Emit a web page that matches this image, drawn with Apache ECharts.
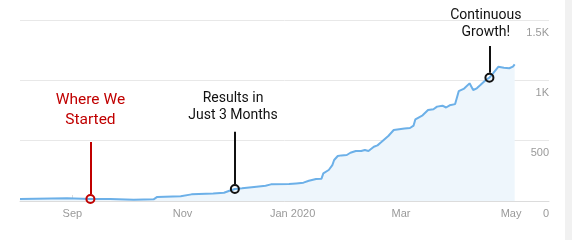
<!DOCTYPE html>
<html>
<head>
<meta charset="utf-8">
<script src="https://cdn.jsdelivr.net/npm/echarts@6/dist/echarts.min.js"></script>
<style>html,body{margin:0;padding:0;background:#fff;}#c{width:572px;height:240px;}</style>
</head>
<body>
<div id="c"></div>
<script>
const dates = ['2019-08-03','2019-08-29','2019-09-11','2019-09-22','2019-09-23','2019-10-05','2019-10-16','2019-10-18','2019-10-31','2019-11-06','2019-11-18','2019-11-24','2019-11-27','2019-11-30','2019-12-04','2019-12-12','2019-12-17','2019-12-20','2019-12-30','2020-01-03','2020-01-07','2020-01-10','2020-01-14','2020-01-17','2020-01-18','2020-01-21','2020-01-23','2020-01-24','2020-01-26','2020-01-28','2020-01-29','2020-01-31','2020-02-02','2020-02-05','2020-02-08','2020-02-10','2020-02-12','2020-02-15','2020-02-17','2020-02-19','2020-02-20','2020-02-23','2020-02-26','2020-02-29','2020-03-03','2020-03-06','2020-03-08','2020-03-09','2020-03-11','2020-03-13','2020-03-16','2020-03-19','2020-03-21','2020-03-24','2020-03-26','2020-03-28','2020-03-31','2020-04-02','2020-04-05','2020-04-08','2020-04-10','2020-04-12','2020-04-14','2020-04-17','2020-04-19','2020-04-21','2020-04-24','2020-04-27','2020-04-30','2020-05-02','2020-05-03'];
const values = [17,22,17,16,7,10,14,34,40,55,63,68,85,99,105,119,127,138,140,146,152,168,182,185,229,257,298,340,373,378,365,381,400,414,414,423,414,450,461,486,483,539,588,594,600,605,625,677,694,710,754,760,782,790,775,793,803,910,932,975,920,934,961,1003,1022,1058,1113,1105,1100,1113,1132];

const xMinDate = '2019-08-03';
const xMaxDate = '2020-05-22';
const tickDates = ['2019-09-01','2019-11-01','2020-01-01','2020-03-01','2020-05-01'];
const tickLabels = ['Sep','Nov','Jan 2020','Mar','May'];
const yTicks = [0, 500, 1000, 1500];
const yTickLabels = ['0', '500', '1K', '1.5K'];

const annoDates = ['2019-09-11','2019-11-30','2020-04-19'];
const annoValues = [17, 99, 1022];
const annoLineTops = [489, 574, 1284];
const annoTexts = ['Where We\nStarted','Results in\nJust 3 Months','Continuous\nGrowth!'];
const annoTextDates = ['2019-09-11','2019-11-29','2020-04-17'];
const annoTextValues = [750, 775, 1469];
const annoColors = ['#c00000','#111111','#111111'];
const annoFontSizes = [15.5, 14, 14];
const annoLineHeights = [20, 17, 17];

function ts(s){ const p = s.split('-').map(Number); return Date.UTC(p[0], p[1]-1, p[2]); }

const seriesData = dates.map((d,i)=>[ts(d), values[i]]);
const tickTs = tickDates.map(ts);
const circleOffset = 41;

const markPoints = [];
const markLines = [];
annoDates.forEach((d,i)=>{
  markPoints.push({
    coord:[ts(d), annoValues[i]], symbol:'circle', symbolSize:8,
    itemStyle:{color:'rgba(0,0,0,0)', borderColor:annoColors[i], borderWidth:2},
    label:{show:false}
  });
  markPoints.push({
    coord:[ts(annoTextDates[i]), annoTextValues[i]], symbol:'circle', symbolSize:0,
    itemStyle:{color:'rgba(0,0,0,0)'},
    label:{show:true, position:'inside', formatter:annoTexts[i], color:annoColors[i],
      fontFamily:'Roboto', fontSize:annoFontSizes[i], lineHeight:annoLineHeights[i], align:'center', verticalAlign:'middle'}
  });
  markLines.push([
    {coord:[ts(d), annoValues[i]+circleOffset], lineStyle:{color:annoColors[i], width:2, type:'solid'}},
    {coord:[ts(d), annoLineTops[i]]}
  ]);
});

const chart = echarts.init(document.getElementById('c'), null, {renderer:'canvas'});
chart.setOption({
  animation:false,
  grid:{left:20, right:23, top:20, bottom:39},
  xAxis:{
    type:'value', min:ts(xMinDate), max:ts(xMaxDate), scale:true,
    axisLine:{show:true, lineStyle:{color:'#dcdcdc', width:1}},
    axisTick:{show:true, inside:true, length:6, lineStyle:{color:'#dcdcdc'}, customValues:tickTs},
    axisLabel:{customValues:tickTs, color:'#9a9a9a', fontSize:11, fontFamily:'Arial', margin:7,
      showMinLabel:true, showMaxLabel:true,
      formatter:function(v){ const i = tickTs.indexOf(v); return i>=0 ? tickLabels[i] : ''; }},
    splitLine:{show:false}
  },
  yAxis:{
    type:'value', position:'right', min:0, max:1500, interval:500,
    axisLine:{show:false}, axisTick:{show:false},
    splitLine:{show:true, lineStyle:{color:'#e8e8e8', width:1}},
    axisLabel:{inside:true, margin:0, color:'#9a9a9a', fontSize:11, fontFamily:'Arial',
      verticalAlign:'top', padding:[7,0,0,0],
      formatter:function(v){ const i = yTicks.indexOf(v); return i>=0 ? yTickLabels[i] : ''; }}
  },
  series:[{
    type:'line', data:seriesData, showSymbol:false, smooth:false,
    lineStyle:{color:'#6cb0e8', width:2},
    areaStyle:{color:'#eef6fc', opacity:1},
    markLine:{silent:true, symbol:['none','none'], label:{show:false}, data:markLines},
    markPoint:{silent:true, data:markPoints}
  }],
  graphic:[{type:'rect', right:0, top:0, shape:{width:7, height:240}, style:{fill:'#f1f1f1'}}]
});
</script>
</body>
</html>
